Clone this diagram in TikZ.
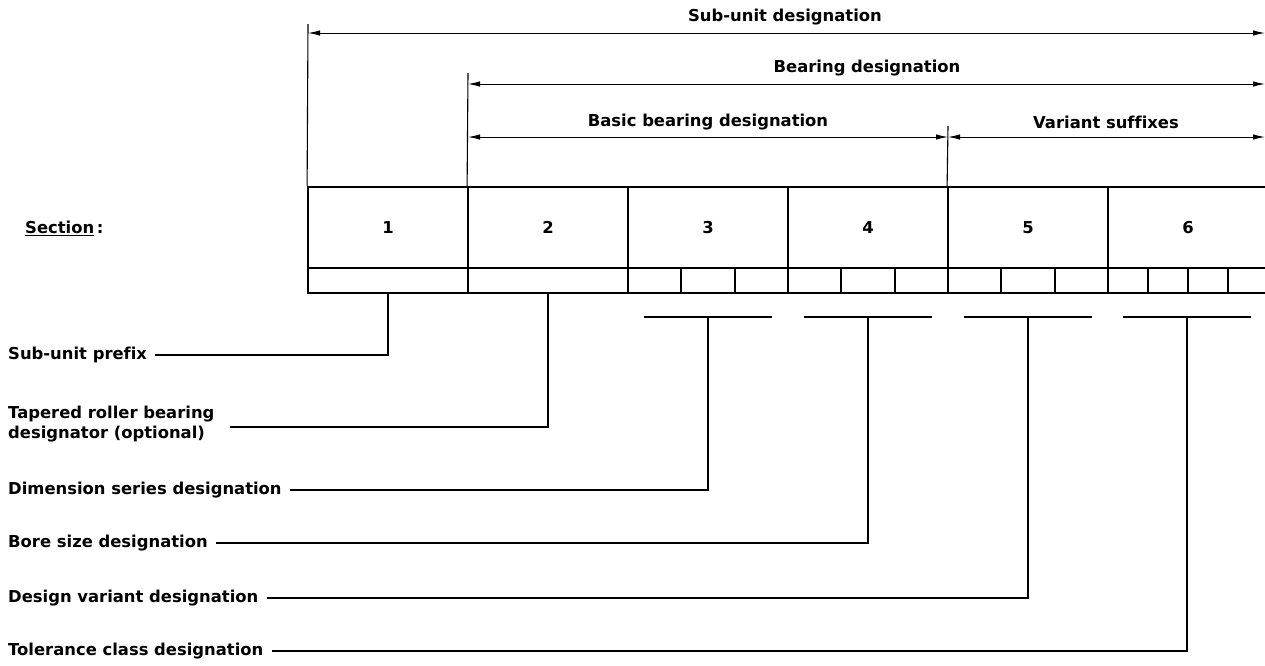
\documentclass[tikz,border=0pt]{standalone}
\usepackage{fontspec}
\setmainfont{DejaVu Sans}[Ligatures=NoCommon]
\usetikzlibrary{arrows.meta,calc}
\begin{document}
\begin{tikzpicture}[x=1pt,y=-1pt,
  txt/.style={font=\fontsize{16.4}{20}\selectfont\bfseries, inner sep=0pt},
  lbl/.style={txt, anchor=west, align=left},
  dimline/.style={line width=1pt, {Latex[length=12pt,width=5.5pt]}-{Latex[length=12pt,width=5.5pt]}},
  extline/.style={line width=1.1pt},
  cell/.style={draw, line width=1.8pt, minimum height=81pt, minimum width=160pt, inner sep=0pt, txt},
  subcell/.style={draw, line width=1.8pt, minimum height=25pt, inner sep=0pt},
  leader/.style={line width=1.1pt},
  bar/.style={line width=1.3pt}]
\useasboundingbox (0,0) rectangle (1265,665);

% main cells
\foreach \i/\x in {1/388,2/548,3/708,4/868,5/1028,6/1188}
  \node[cell] (c\i) at (\x,227.5) {\i};

% sub cells
\node[subcell, minimum width=160pt] (s1) at (388,280.5) {};
\node[subcell, minimum width=160pt] (s2) at (548,280.5) {};
\foreach \c/\x in {3/628,4/788,5/948}
  \foreach \k in {0,1,2}
    \node[subcell, minimum width=53.333pt] (s\c\k) at ({\x+26.667+53.333*\k},280.5) {};
\foreach \k in {0,1,2,3}
  \node[subcell, minimum width=40pt] (s6\k) at ({1128+40*\k},280.5) {};

% section label
\node[lbl] (sec) at (25,228) {\underline{Section}\,:};

% extension lines
\coordinate (e1) at (308,24);
\coordinate (e2) at (468,73);
\coordinate (e3) at (948,126);
\draw[extline] (e1) -- (c1.north west);
\draw[extline] (e2) -- (c2.north west);
\draw[extline] (e3) -- (c5.north west);

% dimension lines
\coordinate (d1l) at (308,33);   \coordinate (d1r) at (1265,33);
\coordinate (d2l) at (468,84);   \coordinate (d2r) at (1265,84);
\coordinate (d3l) at (468,137);  \coordinate (d3r) at (948,137);
\coordinate (d4l) at (948,137);  \coordinate (d4r) at (1265,137);
\draw[dimline] (d1l) -- (d1r);
\draw[dimline] (d2l) -- (d2r);
\draw[dimline] (d3l) -- (d3r);
\draw[dimline] (d4l) -- (d4r);
\node[txt] (t1) at (785,17) {Sub-unit designation};
\node[txt] (t2) at (867,68) {Bearing designation};
\node[txt] (t3) at (708,122) {Basic bearing designation};
\node[txt] (t4) at (1106,122) {Variant suffixes};

% bars
\coordinate (b3) at (708,317); \coordinate (b4) at (868,317);
\coordinate (b5) at (1028,317); \coordinate (b6) at (1187,317);
\foreach \b in {3,4,5,6}
  \draw[bar] ($(b\b)+(-64,0)$) -- ($(b\b)+(64,0)$);

% labels
\node[lbl] (l1) at (8,355) {Sub-unit prefix};
\node[lbl] (l2) at (8,424) {Tapered roller bearing\\designator (optional)};
\node[lbl] (l3) at (8,490) {Dimension series designation};
\node[lbl] (l4) at (8,543) {Bore size designation};
\node[lbl] (l5) at (8,598) {Design variant designation};
\node[lbl] (l6) at (8,651) {Tolerance class designation};

% leaders
\draw[leader] ([xshift=8pt]l1.east) -| (s1.south);
\draw[leader] ([xshift=15pt,yshift=-3pt]l2.east) -| (s2.south);
\draw[leader] ([xshift=8pt]l3.east) -| (b3);
\draw[leader] ([xshift=8pt]l4.east) -| (b4);
\draw[leader] ([xshift=8pt]l5.east) -| (b5);
\draw[leader] ([xshift=8pt]l6.east) -| (b6);
\end{tikzpicture}
\end{document}
